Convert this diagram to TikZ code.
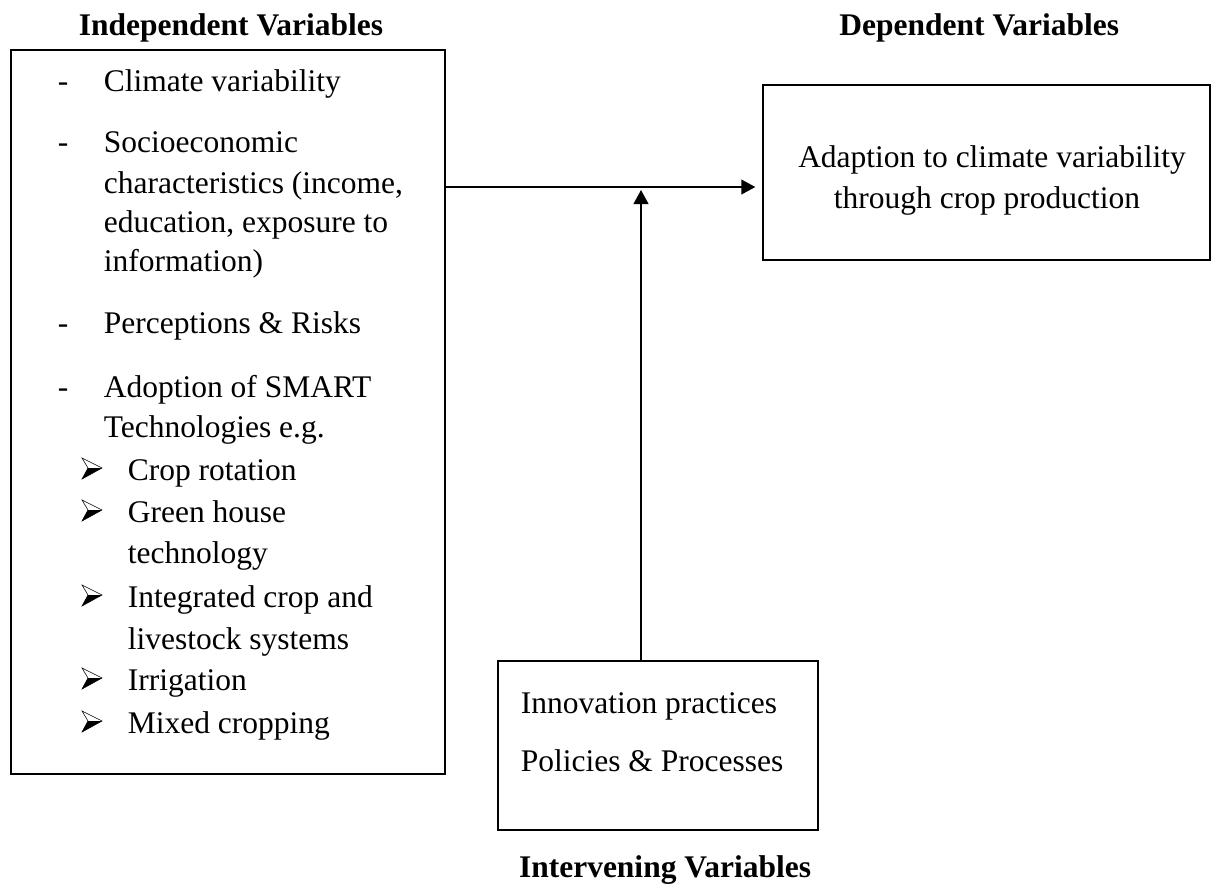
\documentclass[tikz,border=0pt]{standalone}
\usepackage{fontspec}
\setmainfont{Liberation Serif}
\usetikzlibrary{arrows.meta}
\def\arrowbullet(#1,#2){\fill[black] (#1,#2-1) -- (#1+20,#2-12) -- (#1+6,#2-12) -- cycle;
	\draw[line width=0.4pt] (#1,#2-22) -- (#1+20,#2-12) -- (#1,#2-1) -- (#1+6,#2-12) -- cycle;}

\begin{document}
\begin{tikzpicture}[x=0.025cm, y=-0.025cm, line width=1.2pt,
		font=\fontsize{22.4}{27}\selectfont,
		box/.style={draw, inner sep=0, line width=1.2pt},
		txt/.style={anchor=base west, inner sep=0},
		title/.style={anchor=base, inner sep=0, font=\fontsize{22.4}{27}\selectfont\bfseries},
		arr/.style={-{Triangle[length=0.35cm, width=0.37cm]}, line width=1.2pt}]
		%%%%% START %%%%%
		\useasboundingbox (0,0) rectangle (1216,884);
		
		\node[title] (indtitle) at (231,35) {Independent Variables};
		\node[title, anchor=base east] (deptitle) at (1120,35) {Dependent Variables};
		\node[title] (inttitle) at (665,877) {Intervening Variables};
		
		\node[box, minimum width=10.85cm, minimum height=18.1cm] (indep) at (228,412) {};
		\node[box, minimum width=11.175cm, minimum height=4.375cm] (dep) at (986.5,172.5) {};
		\node[box, minimum width=8cm, minimum height=4.225cm] (interv) at (658,745.5) {};
		
		\foreach \y in {91,152,333,397}
			\node[txt] (dash-\y) at (57,\y) {-};
		\foreach \y/\t in {91/Climate variability, 152/Socioeconomic, 193/{characteristics (income,},
				232/{education, exposure to}, 271/information), 333/Perceptions \& Risks,
				397/Adoption of SMART, 437/Technologies e.g.}
			\node[txt] (ind-\y) at (103,\y) {\t};
		
		\foreach \y in {480,522,607,690,733}
			\arrowbullet(82,\y);
		\foreach \y/\t in {480/Crop rotation, 522/Green house, 563/technology, 607/Integrated crop and,
				649/livestock systems, 690/Irrigation, 733/Mixed cropping}
			\node[txt] (tech-\y) at (127,\y) {\t};
		
		\node[anchor=base, inner sep=0] (dep1) at (992,167) {Adaption to climate variability};
		\node[anchor=base, inner sep=0] (dep2) at (987,208) {through crop production};
		
		\node[txt] (inn) at (520,713) {Innovation practices};
		\node[txt] (pol) at (520,771) {Policies \& Processes};
		
		\coordinate (join) at (641,187);
		\draw[arr] (indep.east |- join) -- ([xshift=-0.17cm]dep.west |- join);
		\draw[arr] (join |- interv.north) -- ([yshift=-0.075cm]join);
		%%%%% END %%%%%
\end{tikzpicture}
\end{document}
